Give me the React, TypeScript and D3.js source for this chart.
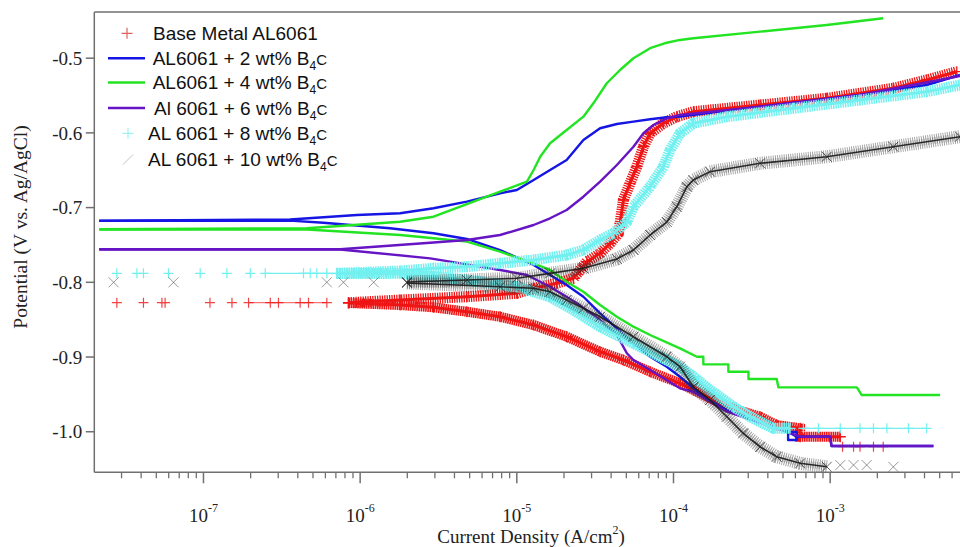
import React from "react";
import * as d3 from "d3";

type Pt = [number, number];

// ---------- axes ----------
const xDomain: [number, number] = [2.01e-8, 6.74e-3];
const yDomain: [number, number] = [-1.0543, -0.4382];
const yTicks = [-1.0, -0.9, -0.8, -0.7, -0.6, -0.5];
const yTickLabels = ["-1.0", "-0.9", "-0.8", "-0.7", "-0.6", "-0.5"];
const xMajorTicks = [1e-7, 1e-6, 1e-5, 1e-4, 1e-3];
const xMajorExp = ["-7", "-6", "-5", "-4", "-3"];
const minorMantissas = [2, 3, 4, 5, 6, 7, 8, 9];
const minorDecades = [1e-8, 1e-7, 1e-6, 1e-5, 1e-4, 1e-3];

// ---------- legend ----------
const legendNames = [
  "Base Metal AL6061",
  "AL6061 + 2 wt% B",
  "AL6061 + 4 wt% B",
  "Al 6061 + 6 wt% B",
  "AL 6061 + 8 wt% B",
  "AL 6061 + 10 wt% B",
];

// ---------- Base metal (red +) ----------
const baseSparse: Pt[] = [
  [2.8e-8, -0.8273], [4.14e-8, -0.8273], [5.43e-8, -0.8273], [5.69e-8, -0.8273],
  [1.1e-7, -0.8273], [1.52e-7, -0.8273], [1.94e-7, -0.8273], [2.67e-7, -0.8273],
  [3.01e-7, -0.8273], [4.14e-7, -0.8273], [4.68e-7, -0.8273], [6.13e-7, -0.8273],
];
const baseLink: Pt[] = [[1.94e-7, -0.8273], [6.13e-7, -0.8273]];
const baseAnodic: Pt[] = [
  [8.42e-7, -0.8273], [1.8e-6, -0.8237], [4.8e-6, -0.8193], [1.0e-5, -0.8147],
  [1.28e-5, -0.808], [1.8e-5, -0.8013], [2.3e-5, -0.7946], [2.54e-5, -0.7835],
  [2.8e-5, -0.7724], [3.4e-5, -0.7612], [3.94e-5, -0.7478], [4.45e-5, -0.7344],
  [4.56e-5, -0.721], [4.79e-5, -0.6898], [5.28e-5, -0.6675], [5.83e-5, -0.6452],
  [6.43e-5, -0.6185], [7.09e-5, -0.6005], [8.62e-5, -0.5871], [1.05e-4, -0.5783],
  [1.34e-4, -0.5716], [3.57e-4, -0.5627], [9.51e-4, -0.5537], [2.53e-3, -0.5403],
  [4.13e-3, -0.5292], [6.43e-3, -0.5181],
];
const baseCathodic: Pt[] = [
  [8.42e-7, -0.8277], [1.8e-6, -0.8304], [2.94e-6, -0.8335], [4.8e-6, -0.8394],
  [7.82e-6, -0.8461], [1.28e-5, -0.8572], [2.08e-5, -0.8728], [3.4e-5, -0.8929],
  [4.79e-5, -0.904], [7.09e-5, -0.9197], [1.1e-4, -0.9352], [1.34e-4, -0.9442],
  [2.19e-4, -0.9665], [3.57e-4, -0.9799], [4.56e-4, -0.991], [6.43e-4, -0.9954],
  [6.43e-4, -1.0067], [1.16e-3, -1.0067],
];
const baseTail: Pt[] = [
  [1.2e-3, -1.0201], [1.41e-3, -1.0201], [1.55e-3, -1.0201], [1.89e-3, -1.0201], [2.18e-3, -1.0201],
];

// ---------- 2 wt% (blue line) ----------
const b2Anodic: Pt[] = [
  [2.16e-8, -0.7175], [3.57e-7, -0.7159], [9.53e-7, -0.7099], [1.8e-6, -0.7076],
  [2.94e-6, -0.7009], [4.8e-6, -0.6921], [7.82e-6, -0.6809], [1.0e-5, -0.6764],
  [1.28e-5, -0.6631], [1.63e-5, -0.6497], [2.08e-5, -0.6363], [2.66e-5, -0.6095],
  [3.4e-5, -0.5938], [4.35e-5, -0.5881], [5.55e-5, -0.585], [7.09e-5, -0.5818],
  [9.06e-5, -0.5791], [1.1e-4, -0.5783], [3.57e-4, -0.5649], [1.55e-3, -0.5493],
  [4.13e-3, -0.5359], [6.74e-3, -0.5225],
];
const b2Cathodic: Pt[] = [
  [2.16e-8, -0.7178], [3.57e-7, -0.7175], [5.83e-7, -0.7202], [1.55e-6, -0.7277],
  [2.94e-6, -0.7344], [4.8e-6, -0.742], [7.82e-6, -0.7568], [1.28e-5, -0.7768],
  [1.63e-5, -0.7902], [2.08e-5, -0.8036], [2.66e-5, -0.8193], [3.4e-5, -0.8415],
  [4.35e-5, -0.8616], [5.55e-5, -0.8817], [7.09e-5, -0.8996], [9.06e-5, -0.913],
  [1.1e-4, -0.9264], [1.55e-4, -0.9531], [2.19e-4, -0.971], [3.57e-4, -0.987],
  [4.56e-4, -0.9954], [5.39e-4, -0.9954], [5.39e-4, -1.0111], [6.12e-4, -1.0111],
  [6.12e-4, -1.0004], [5.39e-4, -1.0004], [6.12e-4, -1.0067], [9.99e-4, -1.0067],
  [1.02e-3, -1.0191], [4.56e-3, -1.0191],
];

// ---------- 4 wt% (green line) ----------
const b4Anodic: Pt[] = [
  [2.16e-8, -0.729], [4.57e-7, -0.7277], [1.8e-6, -0.7189], [2.94e-6, -0.7122],
  [4.8e-6, -0.6952], [7.82e-6, -0.6787], [1.16e-5, -0.6653], [1.28e-5, -0.6497],
  [1.41e-5, -0.6319], [1.63e-5, -0.6139], [2.08e-5, -0.5961], [2.66e-5, -0.5783],
  [3.08e-5, -0.5604], [3.75e-5, -0.5336], [4.56e-5, -0.5158], [5.55e-5, -0.5001],
  [7.09e-5, -0.4867], [9.06e-5, -0.4793], [1.1e-4, -0.4756], [1.34e-4, -0.4734],
  [3.57e-4, -0.4645], [9.51e-4, -0.4556], [2.18e-3, -0.4466],
];
const b4Cathodic: Pt[] = [
  [2.16e-8, -0.7293], [4.57e-7, -0.7293], [1.8e-6, -0.7367], [2.94e-6, -0.7411],
  [4.8e-6, -0.7456], [7.82e-6, -0.759], [1.28e-5, -0.7746], [1.63e-5, -0.7835],
  [2.08e-5, -0.7992], [2.66e-5, -0.8126], [3.4e-5, -0.8304], [4.35e-5, -0.8461],
  [5.55e-5, -0.8594], [7.09e-5, -0.8705], [1.1e-4, -0.8884], [1.41e-4, -0.8996],
  [1.55e-4, -0.8996], [1.55e-4, -0.9098], [2.24e-4, -0.9098], [2.24e-4, -0.9197],
  [3.01e-4, -0.9197], [3.01e-4, -0.9295], [4.56e-4, -0.9295], [4.67e-4, -0.9406],
  [1.48e-3, -0.9406], [1.59e-3, -0.9509], [5.03e-3, -0.9509],
];

// ---------- 6 wt% (purple line) ----------
const b6Anodic: Pt[] = [
  [2.16e-8, -0.7558], [7.45e-7, -0.7558], [2.8e-6, -0.747], [4.8e-6, -0.7434],
  [7.82e-6, -0.7367], [1.28e-5, -0.7233], [1.63e-5, -0.7143], [2.08e-5, -0.7032],
  [2.66e-5, -0.6854], [3.4e-5, -0.6653], [4.35e-5, -0.643], [5.55e-5, -0.6185],
  [6.43e-5, -0.6005], [7.44e-5, -0.5894], [9.06e-5, -0.5805], [1.1e-4, -0.576],
  [3.57e-4, -0.5649], [1.55e-3, -0.5493], [6.74e-3, -0.5238],
];
const b6Cathodic: Pt[] = [
  [2.16e-8, -0.756], [7.45e-7, -0.756], [2.8e-6, -0.7679], [3.75e-6, -0.7724],
  [7.82e-6, -0.7835], [1.16e-5, -0.7902], [1.63e-5, -0.8059], [2.42e-5, -0.8281],
  [3.4e-5, -0.8505], [4.35e-5, -0.8705], [5.04e-5, -0.895], [5.55e-5, -0.904],
  [7.09e-5, -0.9174], [1.1e-4, -0.9419], [1.34e-4, -0.9465], [2.19e-4, -0.9732],
  [2.94e-4, -0.9821], [4.56e-4, -0.9954], [6.43e-4, -1.0067], [9.99e-4, -1.0067],
  [1.02e-3, -1.0191], [4.56e-3, -1.0191],
];

// ---------- 8 wt% (cyan +) ----------
const b8Sparse: Pt[] = [
  [2.8e-8, -0.788], [3.76e-8, -0.788], [4.14e-8, -0.788], [5.98e-8, -0.788],
  [9.53e-8, -0.788], [1.41e-7, -0.788], [1.99e-7, -0.788], [2.48e-7, -0.788],
  [4.35e-7, -0.788], [4.8e-7, -0.788], [5.29e-7, -0.788], [6.13e-7, -0.788],
];
const b8Link: Pt[] = [[2.48e-7, -0.788], [7.1e-7, -0.788]];
const b8Anodic: Pt[] = [
  [7.1e-7, -0.788], [1.8e-6, -0.7849], [2.94e-6, -0.7813], [4.8e-6, -0.7791],
  [7.82e-6, -0.7746], [1.28e-5, -0.7701], [2.08e-5, -0.7635], [2.66e-5, -0.7568],
  [3.4e-5, -0.7434], [4.13e-5, -0.7344], [5.04e-5, -0.7189], [5.55e-5, -0.6988],
  [7.09e-5, -0.672], [8.62e-5, -0.6452], [9.51e-5, -0.6229], [1.1e-4, -0.6005],
  [1.34e-4, -0.5871], [2.19e-4, -0.5783], [5.82e-4, -0.5671], [1.55e-3, -0.556],
  [4.13e-3, -0.5448], [6.74e-3, -0.5359],
];
const b8Cathodic: Pt[] = [
  [7.1e-7, -0.7883], [1.8e-6, -0.788], [4.8e-6, -0.7969], [1.0e-5, -0.8059],
  [1.63e-5, -0.8193], [2.3e-5, -0.8371], [3.4e-5, -0.8594], [5.55e-5, -0.8817],
  [9.06e-5, -0.904], [1.1e-4, -0.913], [1.34e-4, -0.9264], [1.71e-4, -0.9442],
  [2.41e-4, -0.9665], [3.08e-4, -0.9799], [4.34e-4, -0.9954], [5.55e-4, -0.9954],
];
const b8Tail: Pt[] = [
  [6.75e-4, -0.9954], [8.41e-4, -0.9954], [1.16e-3, -0.9954], [1.55e-3, -0.9954],
  [1.89e-3, -0.9954], [2.3e-3, -0.9954], [3.16e-3, -0.9954], [4.13e-3, -0.9954],
];

// ---------- 10 wt% (black x) ----------
const b10Sparse: Pt[] = [
  [2.67e-8, -0.8], [6.44e-8, -0.8], [6.13e-7, -0.8], [7.82e-7, -0.8], [1.22e-6, -0.8],
];
const b10Anodic: Pt[] = [
  [1.99e-6, -0.7996], [4.8e-6, -0.7969], [1.0e-5, -0.7946], [1.63e-5, -0.788],
  [2.66e-5, -0.7813], [4.35e-5, -0.7688], [5.55e-5, -0.7568], [7.09e-5, -0.7367],
  [9.06e-5, -0.7193], [1.05e-4, -0.6988], [1.22e-4, -0.672], [1.34e-4, -0.6631],
  [1.71e-4, -0.6519], [3.57e-4, -0.6407], [9.51e-4, -0.6319], [2.53e-3, -0.6185],
  [6.74e-3, -0.6051],
];
const b10Cathodic: Pt[] = [
  [1.99e-6, -0.8009], [7.82e-6, -0.8059], [1.28e-5, -0.808], [1.63e-5, -0.8126],
  [2.08e-5, -0.8237], [2.66e-5, -0.8348], [3.4e-5, -0.8461], [5.55e-5, -0.8728],
  [9.06e-5, -0.8996], [1.1e-4, -0.913], [1.34e-4, -0.9398], [1.71e-4, -0.9576],
  [2.19e-4, -0.9799], [2.79e-4, -1.0021], [3.57e-4, -1.0201], [4.56e-4, -1.0335],
  [6.43e-4, -1.0423], [9.51e-4, -1.0469],
];
const b10Tail: Pt[] = [
  [1.16e-3, -1.0446], [1.41e-3, -1.0446], [1.71e-3, -1.0446], [2.53e-3, -1.047],
];

const RED = "#ef1515";
const BLUE = "#1515e4";
const GREEN = "#22e422";
const PURPLE = "#6614c4";
const CYAN = "#72f0f0";
const BLACK = "#1a1a1a";

const SERIF = "'Liberation Serif','Times New Roman',serif";
const SANS = "'Liberation Sans',Arial,sans-serif";

export default function App() {
  const W = 960, H = 547;
  const L = 94.3, R = 960, T = 12, B = 472.3;
  const x = d3.scaleLog().domain(xDomain).range([L, R]);
  const y = d3.scaleLinear().domain(yDomain).range([B, T]);
  const line = d3.line<Pt>().x((d) => x(d[0])).y((d) => y(d[1]));

  const minorTicks: number[] = [];
  minorDecades.forEach((dec) =>
    minorMantissas.forEach((m) => {
      const v = m * dec;
      if (v >= xDomain[0] && v <= xDomain[1]) minorTicks.push(v);
    })
  );

  const plus = (cx: number, cy: number, s: number) =>
    `M${cx - s},${cy}h${2 * s}M${cx},${cy - s}v${2 * s}`;
  const cross = (cx: number, cy: number, s: number) =>
    `M${cx - s},${cy - s}l${2 * s},${2 * s}M${cx - s},${cy + s}l${2 * s},${-2 * s}`;

  const lineSeries = (data: Pt[], color: string, key: string) => (
    <path key={key} d={line(data) || ""} fill="none" stroke={color} strokeWidth={2.4} strokeLinejoin="round" />
  );

  const plusBand = (data: Pt[], color: string, key: string, w: number, dash: string) => (
    <g key={key}>
      <path d={line(data) || ""} fill="none" stroke={color} strokeWidth={w} strokeDasharray={dash} />
      <path d={line(data) || ""} fill="none" stroke={color} strokeWidth={3} />
      {data.map((d, i) => (
        <path key={i} d={plus(x(d[0]), y(d[1]), 5.5)} stroke={color} strokeWidth={1.3} fill="none" />
      ))}
    </g>
  );

  const plusMarks = (data: Pt[], color: string, key: string, op = 1) => (
    <g key={key} opacity={op}>
      {data.map((d, i) => (
        <path key={i} d={plus(x(d[0]), y(d[1]), 5)} stroke={color} strokeWidth={1.2} fill="none" />
      ))}
    </g>
  );

  const crossBand = (data: Pt[], key: string) => (
    <g key={key}>
      <path d={line(data) || ""} fill="none" stroke="#2a2a2a" strokeOpacity={0.45} strokeWidth={13} strokeDasharray="0.9 1.3" />
      <path d={line(data) || ""} fill="none" stroke="#2a2a2a" strokeOpacity={0.35} strokeWidth={7} strokeDasharray="0.7 0.9" strokeDashoffset={0.5} />
      <path d={line(data) || ""} fill="none" stroke={BLACK} strokeOpacity={0.9} strokeWidth={1.6} />
      {data.map((d, i) => (
        <path key={i} d={cross(x(d[0]), y(d[1]), 5)} stroke="#222" strokeOpacity={0.7} strokeWidth={1} fill="none" />
      ))}
    </g>
  );

  const crossMarks = (data: Pt[], key: string) => (
    <g key={key}>
      {data.map((d, i) => (
        <path key={i} d={cross(x(d[0]), y(d[1]), 5)} stroke="#555" strokeOpacity={0.6} strokeWidth={1} fill="none" />
      ))}
    </g>
  );

  const legendY = [33.3, 58.3, 82.5, 108, 133.3, 159.5];
  const legendTextX = [153, 152.7, 152.7, 154, 148, 148];

  return (
    <svg width={W} height={H} style={{ position: "absolute", left: 0, top: 0, background: "#fff" }}>
      <rect x={0} y={0} width={W} height={H} fill="#fff" />

      {/* ---- series ---- */}
      <g>
        {/* base metal */}
        <path d={line(baseLink) || ""} fill="none" stroke={RED} strokeOpacity={0.6} strokeWidth={1.3} />
        {plusMarks(baseSparse, RED, "bs", 0.8)}
        {plusBand(baseAnodic, RED, "ba", 11, "1.3 1.1")}
        {plusBand(baseCathodic, RED, "bc", 10, "1.6 0.6")}
        {plusMarks(baseTail, RED, "bt", 0.8)}

        {lineSeries(b2Anodic, BLUE, "b2a")}
        {lineSeries(b2Cathodic, BLUE, "b2c")}
        {lineSeries(b4Anodic, GREEN, "b4a")}
        {lineSeries(b4Cathodic, GREEN, "b4c")}
        {lineSeries(b6Anodic, PURPLE, "b6a")}
        {lineSeries(b6Cathodic, PURPLE, "b6c")}

        {/* 8 wt% */}
        <path d={line(b8Link) || ""} fill="none" stroke={CYAN} strokeWidth={1.3} />
        <path d={line(b8Tail) || ""} fill="none" stroke={CYAN} strokeWidth={1.3} />
        {plusMarks(b8Sparse, CYAN, "cs")}
        {plusBand(b8Anodic, CYAN, "ca", 11, "1.5 0.9")}
        {plusBand(b8Cathodic, CYAN, "cc", 11, "1.8 0.5")}
        {plusMarks(b8Tail, CYAN, "ct")}

        {/* 10 wt% */}
        {crossMarks(b10Sparse, "ks")}
        {crossBand(b10Anodic, "ka")}
        {crossBand(b10Cathodic, "kc")}
        {crossMarks(b10Tail, "kt")}
      </g>

      {/* ---- frame ---- */}
      <g stroke="#707070" strokeWidth={1.5} fill="none">
        <line x1={L} y1={T} x2={R} y2={T} />
        <line x1={L} y1={T} x2={L} y2={B} />
        <line x1={L} y1={B} x2={R} y2={B} />
      </g>

      {/* ---- y axis ---- */}
      <g>
        {yTicks.map((v, i) => (
          <g key={i}>
            <line x1={L - 8.5} x2={L} y1={y(v)} y2={y(v)} stroke="#707070" strokeWidth={1.5} />
            <text x={L - 12} y={y(v)} dy="0.35em" textAnchor="end" fontFamily={SERIF} fontSize={19} fill="#222">
              {yTickLabels[i]}
            </text>
          </g>
        ))}
        <text
          transform={`translate(27,227) rotate(-90)`}
          textAnchor="middle"
          fontFamily={SERIF}
          fontSize={19.5}
          fill="#222"
        >
          Potential (V vs. Ag/AgCl)
        </text>
      </g>

      {/* ---- x axis ---- */}
      <g>
        {minorTicks.map((v, i) => (
          <line key={i} x1={x(v)} x2={x(v)} y1={B} y2={B + 6} stroke="#707070" strokeWidth={1.3} />
        ))}
        {xMajorTicks.map((v, i) => (
          <g key={i}>
            <line x1={x(v)} x2={x(v)} y1={B} y2={B + 11} stroke="#707070" strokeWidth={1.5} />
            <text x={x(v)} y={522} textAnchor="middle" fontFamily={SERIF} fontSize={19} fill="#222">
              10
              <tspan fontSize={12} dy={-10}>
                {xMajorExp[i]}
              </tspan>
            </text>
          </g>
        ))}
        <text x={531} y={543} textAnchor="middle" fontFamily={SERIF} fontSize={19} fill="#222">
          Current Density (A/cm
          <tspan fontSize={12} dy={-9}>2</tspan>
          <tspan dy={9}>)</tspan>
        </text>
      </g>

      {/* ---- legend ---- */}
      <g>
        {legendNames.map((name, i) => {
          const cy = legendY[i];
          let sym: React.ReactNode = null;
          if (i === 0) sym = <path d={plus(127, cy, 5.5)} stroke="#e06060" strokeWidth={1.2} fill="none" />;
          else if (i === 1) sym = <line x1={108} x2={145} y1={cy} y2={cy} stroke={BLUE} strokeWidth={2.6} />;
          else if (i === 2) sym = <line x1={108} x2={145} y1={cy} y2={cy} stroke={GREEN} strokeWidth={2.6} />;
          else if (i === 3) sym = <line x1={108} x2={145} y1={cy} y2={cy} stroke={PURPLE} strokeWidth={2.6} />;
          else if (i === 4) sym = <path d={plus(128, cy, 5.5)} stroke={CYAN} strokeOpacity={0.7} strokeWidth={1.2} fill="none" />;
          else sym = <path d={`M${123},${cy + 5}L${133},${cy - 5}`} stroke="#999" strokeOpacity={0.6} strokeWidth={1} fill="none" />;
          return (
            <g key={i}>
              {sym}
              <text x={legendTextX[i]} y={cy + 6.5} fontFamily={SANS} fontSize={19} fill="#111">
                {name}
                {i > 0 && (
                  <>
                    <tspan fontSize={12} dy={5}>4</tspan>
                    <tspan fontSize={15} dy={-5}>C</tspan>
                  </>
                )}
              </text>
            </g>
          );
        })}
      </g>
    </svg>
  );
}
